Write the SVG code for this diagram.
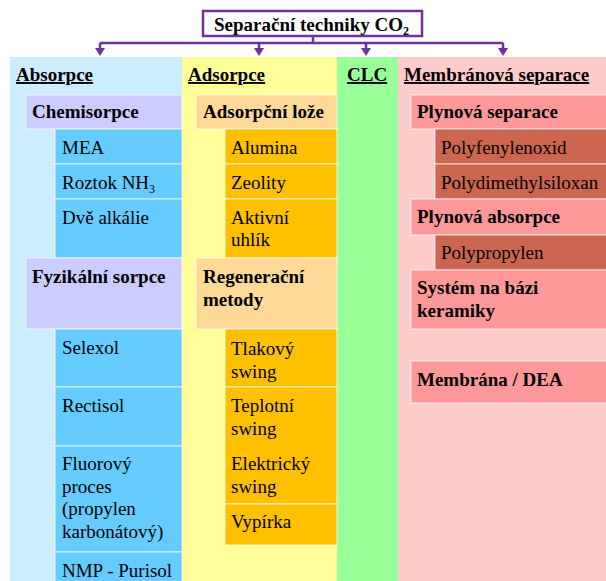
<svg xmlns="http://www.w3.org/2000/svg" width="606" height="581" viewBox="0 0 606 581">
<defs>
<style>
text{font-family:"Liberation Serif","DejaVu Serif",serif;font-size:19px;fill:#000}
.b{font-weight:bold}
.h{font-weight:bold;text-decoration:underline}
.it{stroke:#ffffff;stroke-opacity:0.7;stroke-width:1}
.lav{fill:#CCCCFF}.blu{fill:#66CCFF}.pea{fill:#FFD998}.ora{fill:#FFC000}.sal{fill:#FF9999}.bro{fill:#CC6650}
.con{fill:none;stroke:#7030A0;stroke-width:2.5}
</style>
<marker id="ar" viewBox="0 0 8 10" refX="0" refY="5" markerWidth="8" markerHeight="10" markerUnits="userSpaceOnUse" orient="auto">
<path d="M0,0 L8,5 L0,10 Z" fill="#7030A0"/>
</marker>
</defs>
<rect width="606" height="581" fill="#ffffff"/>
<g id="col-absorpce">
<rect x="10" y="57" width="172" height="524" fill="#CCECFF"/>
<text class="h" x="16" y="81">Absorpce</text>
</g>
<g id="col-adsorpce">
<rect x="182" y="57" width="155" height="524" fill="#FFFF99"/>
<text class="h" x="188" y="81">Adsorpce</text>
</g>
<g id="col-clc">
<rect x="337" y="57" width="61" height="524" fill="#99FF99"/>
<text class="h" x="347" y="81">CLC</text>
</g>
<g id="col-membrana">
<rect x="398" y="57" width="208" height="524" fill="#FFCCCC"/>
<text class="h" x="404" y="81">Membránová separace</text>
</g>
<g id="title">
<rect x="203" y="11" width="219" height="25" fill="#ffffff" stroke="#7030A0" stroke-width="2.5"/>
<text class="b" x="214" y="31">Separační techniky CO<tspan font-size="12" dy="4">2</tspan></text>
</g>
<g id="connectors">
<path class="con" d="M313,36 V43"/>
<path class="con" d="M100,43 H503"/>
<path class="con" d="M100,43 V48" marker-end="url(#ar)"/>
<path class="con" d="M259,43 V48" marker-end="url(#ar)"/>
<path class="con" d="M366,43 V48" marker-end="url(#ar)"/>
<path class="con" d="M503,43 V48" marker-end="url(#ar)"/>
</g>
<g id="chemisorpce"><rect class="lav it" x="26" y="95" width="156" height="34"/><text class="b" x="32" y="118">Chemisorpce</text></g>
<g id="mea"><rect class="blu it" x="55" y="129" width="127" height="35"/><text x="62" y="154">MEA</text></g>
<g id="roztok"><rect class="blu it" x="55" y="164" width="127" height="35"/><text x="62" y="189">Roztok NH<tspan font-size="12" dy="4">3</tspan></text></g>
<g id="dve-alkalie"><rect class="blu it" x="55" y="199" width="127" height="59"/><text x="62" y="224">Dvě alkálie</text></g>
<g id="fyzikalni"><rect class="lav it" x="26" y="258" width="156" height="71"/><text class="b" x="32" y="283">Fyzikální sorpce</text></g>
<g id="selexol"><rect class="blu it" x="55" y="329" width="127" height="58"/><text x="62" y="354">Selexol</text></g>
<g id="rectisol"><rect class="blu it" x="55" y="387" width="127" height="59"/><text x="62" y="412">Rectisol</text></g>
<g id="fluorovy"><rect class="blu it" x="55" y="446" width="127" height="106"/><text x="62" y="470">Fluorový</text><text x="62" y="493">proces</text><text x="62" y="515">(propylen</text><text x="62" y="538">karbonátový)</text></g>
<g id="nmp"><rect class="blu it" x="55" y="552" width="127" height="35"/><text x="62" y="577">NMP - Purisol</text></g>
<g id="adsorpcni-loze"><rect class="pea it" x="196" y="95" width="141" height="34"/><text class="b" x="203" y="118">Adsorpční lože</text></g>
<g id="alumina"><rect class="ora it" x="225" y="129" width="112" height="35"/><text x="231" y="154">Alumina</text></g>
<g id="zeolity"><rect class="ora it" x="225" y="164" width="112" height="35"/><text x="231" y="189">Zeolity</text></g>
<g id="aktivni-uhlik"><rect class="ora it" x="225" y="199" width="112" height="59"/><text x="231" y="224">Aktivní</text><text x="231" y="246">uhlík</text></g>
<g id="regeneracni"><rect class="pea it" x="196" y="258" width="141" height="71"/><text class="b" x="203" y="283">Regenerační</text><text class="b" x="203" y="306">metody</text></g>
<g id="tlakovy"><rect class="ora it" x="225" y="329" width="112" height="58"/><text x="231" y="355">Tlakový</text><text x="231" y="378">swing</text></g>
<g id="teplotni"><rect class="ora it" x="225" y="387" width="112" height="117"/><text x="231" y="412">Teplotní</text><text x="231" y="435">swing</text><text x="231" y="470">Elektrický</text><text x="231" y="493">swing</text></g>
<g id="vypirka"><rect class="ora it" x="225" y="504" width="112" height="41"/><text x="231" y="528">Vypírka</text></g>
<g id="plynova-separace"><rect class="sal it" x="411" y="95" width="196" height="34"/><text class="b" x="417" y="118">Plynová separace</text></g>
<g id="polyfenylenoxid"><rect class="bro it" x="435" y="129" width="172" height="35"/><text x="441" y="154">Polyfenylenoxid</text></g>
<g id="polydimethylsiloxan"><rect class="bro it" x="435" y="164" width="172" height="35"/><text x="441" y="189">Polydimethylsiloxan</text></g>
<g id="plynova-absorpce"><rect class="sal it" x="411" y="199" width="196" height="36"/><text class="b" x="417" y="223">Plynová absorpce</text></g>
<g id="polypropylen"><rect class="bro it" x="435" y="235" width="172" height="35"/><text x="441" y="259">Polypropylen</text></g>
<g id="keramika"><rect class="sal it" x="411" y="270" width="196" height="59"/><text class="b" x="417" y="294">Systém na bázi</text><text class="b" x="417" y="317">keramiky</text></g>
<g id="membrana-dea"><rect class="sal it" x="411" y="361" width="196" height="42"/><text class="b" x="417" y="386">Membrána / DEA</text></g>
</svg>
